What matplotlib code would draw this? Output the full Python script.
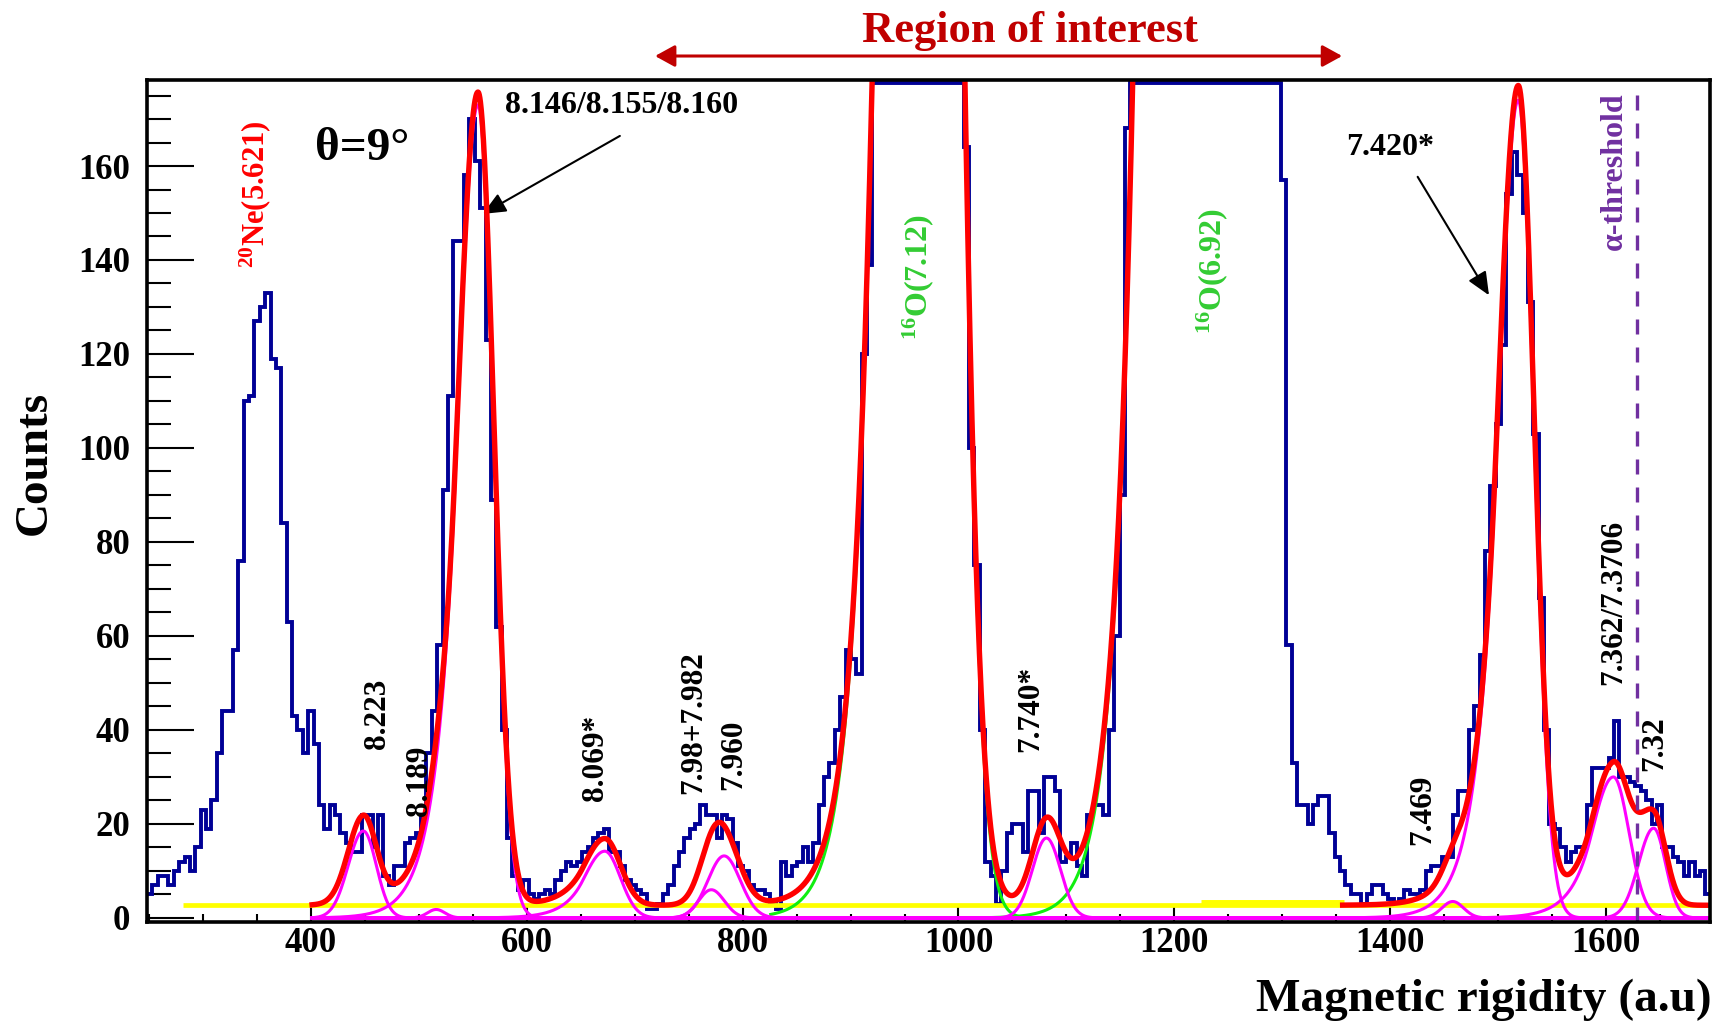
import numpy as np
import matplotlib
matplotlib.use("Agg")
import matplotlib.pyplot as plt
import matplotlib.transforms as mtransforms

# ---------------- data ----------------
x_lo, x_hi = 248.0, 1697.0          # histogram range (magnetic rigidity, a.u.)
hist_counts = [
    5, 7, 9, 9, 7, 10, 12, 13, 10, 15,
    23, 19, 25, 35, 44, 44, 57, 76, 110, 111,
    127, 130, 133, 119, 117, 84, 63, 43, 40, 35,
    44, 37, 24, 19, 24, 22, 18, 16, 14, 14,
    22, 22, 15, 22, 9, 7, 11, 11, 16, 17,
    18, 22, 35, 44, 58, 91, 111, 144, 144, 158,
    170, 161, 151, 123, 89, 62, 40, 17, 9, 6,
    8, 5, 4, 5, 6, 5, 8, 10, 12, 11,
    12, 14, 15, 17, 18, 19, 14, 14, 11, 8,
    7, 6, 5, 2, 2, 3, 5, 7, 11, 14,
    17, 19, 20, 24, 22, 22, 17, 22, 21, 16,
    11, 10, 7, 6, 6, 5, 3, 2, 12, 9,
    11, 12, 15, 12, 16, 24, 30, 33, 40, 47,
    57, 55, 52, 120, 139, 260, 380, 500, 620, 720,
    800, 850, 870, 860, 820, 760, 680, 580, 470, 360,
    270, 200, 164, 100, 75, 40, 12, 9, 3, 10,
    18, 20, 20, 14, 27, 27, 18, 30, 30, 27,
    12, 13, 16, 11, 9, 22, 24, 24, 22, 40,
    60, 90, 168, 230, 300, 380, 460, 540, 610, 660,
    700, 720, 720, 700, 660, 610, 560, 520, 480, 450,
    420, 400, 380, 360, 340, 320, 300, 280, 260, 240,
    215, 157, 58, 33, 24, 24, 20, 24, 26, 26,
    18, 13, 10, 7, 5, 5, 3, 5, 7, 7,
    5, 4, 3, 4, 6, 5, 5, 6, 10, 11,
    11, 13, 13, 22, 27, 27, 40, 45, 56, 78,
    92, 105, 122, 154, 163, 158, 150, 131, 103, 68,
    40, 20, 19, 15, 12, 14, 15, 15, 24, 32,
    32, 32, 34, 42, 30, 30, 29, 28, 27, 25,
    20, 24, 15, 15, 13, 12, 9, 12, 9, 10,
    5,
]

# fitted components (Gaussian core, optional exponential low-side tail)
mag_centers = [448.5, 516.0, 554.7, 672.2, 771.0, 782.8, 1081.5, 1458.0, 1518.7, 1606.9, 1644.2]
mag_amps    = [18.5, 1.8, 173.0, 14.2, 6.0, 13.2, 17.0, 3.5, 174.0, 30.0, 19.1]
mag_sig_l   = [14.0, 8.0, 19.0, 19.0, 12.0, 15.0, 13.0, 10.0, 19.0, 20.0, 14.0]
mag_tail_k  = [9.0, 9.0, 1.1, 1.1, 9.0, 9.0, 9.0, 9.0, 1.1, 1.1, 9.0]
mag_sig_r   = [12.0, 8.0, 14.5, 14.5, 12.0, 15.0, 13.0, 10.0, 14.5, 14.5, 11.0]
mag_fit_id  = [1, 1, 1, 1, 1, 1, 1, 2, 2, 2, 2]

grn_centers = [970.0, 1194.0]       # 16O(7.12), 16O(6.92)
grn_amps    = [667.0, 630.0]
grn_sig_l   = [30.6, 19.0]
grn_tail_k  = [1.78, 1.1]
grn_sig_r   = [22.0, 24.0]
grn_from    = [826.0, 972.0]

background = 2.7
fit1_range = (401.0, 1226.0)
fit2_range = (1356.0, 1696.0)
bg_range = (281.6, 1696.0)
bg2_range = (1225.0, 1357.0)
alpha_threshold = 1628.6

# ---------------- helpers ----------------
def peak(x, c, a, sl, k, sr):
    d = x - c
    out = np.empty_like(x)
    left = d < 0
    u = -d[left] / sl
    core = a * np.exp(-0.5 * u ** 2)
    tail = a * np.exp(0.5 * k ** 2 - k * u)
    out[left] = np.where(u <= k, core, tail)
    out[~left] = a * np.exp(-0.5 * (d[~left] / sr) ** 2)
    return out

plt.rcParams['font.family'] = ['Liberation Serif', 'DejaVu Serif']
plt.rcParams['font.weight'] = 'bold'
plt.rcParams['mathtext.fontset'] = 'custom'
plt.rcParams['mathtext.rm'] = 'Liberation Serif:bold'
plt.rcParams['mathtext.it'] = 'Liberation Serif:italic:bold'
plt.rcParams['mathtext.bf'] = 'Liberation Serif:bold'

fig = plt.figure(figsize=(17.18, 10.23), dpi=100)
ax = fig.add_axes([0.08556, 0.09902, 0.90978, 0.82278])
y_lo, y_hi = -0.8, 178.3
ax.set_xlim(x_lo, 1696.4)
ax.set_ylim(y_lo, y_hi)

BLUE = '#000096'
RED = '#FF0000'
MAG = '#FF00FF'
GRN = '#11EE11'
YEL = '#FFFF00'
PUR = '#7030A0'
DRED = '#C00000'

# histogram (ROOT draws overflowing bins along the frame)
counts = np.array(hist_counts, dtype=float)
edges = np.linspace(x_lo, x_hi, len(counts) + 1)
ax.stairs(np.minimum(counts, y_hi - 0.6), edges, color=BLUE, lw=2.8, zorder=2,
          baseline=None)

# background line
ax.plot(bg_range, [background, background], color=YEL, lw=3.4, zorder=3,
        solid_capstyle='butt')
ax.plot(bg2_range, [background + 0.5, background + 0.5], color=YEL, lw=5.0, zorder=3,
        solid_capstyle='butt')

# components
xm = np.linspace(fit1_range[0], fit2_range[1], 3000)
for c, a, sl, k, sr in zip(mag_centers, mag_amps, mag_sig_l, mag_tail_k, mag_sig_r):
    ax.plot(xm, peak(xm, c, a, sl, k, sr), color=MAG, lw=2.2, zorder=5)

for c, a, sl, k, sr, x0 in zip(grn_centers, grn_amps, grn_sig_l, grn_tail_k, grn_sig_r, grn_from):
    xg = np.linspace(x0, fit1_range[1], 1500)
    ax.plot(xg, peak(xg, c, a, sl, k, sr), color=GRN, lw=2.2, zorder=4)

# total fits
for fid, (r0, r1) in enumerate([fit1_range, fit2_range], start=1):
    xf = np.linspace(r0, r1, 3000)
    tot = np.full_like(xf, background)
    for c, a, sl, k, sr, f in zip(mag_centers, mag_amps, mag_sig_l, mag_tail_k, mag_sig_r, mag_fit_id):
        if f == fid:
            tot += peak(xf, c, a, sl, k, sr)
    if fid == 1:
        for c, a, sl, k, sr in zip(grn_centers, grn_amps, grn_sig_l, grn_tail_k, grn_sig_r):
            tot += peak(xf, c, a, sl, k, sr)
    ax.plot(xf, tot, color=RED, lw=3.9, zorder=6)

# alpha threshold
ax.plot([alpha_threshold, alpha_threshold], [y_lo, 176.0], color=PUR, lw=2.4,
        linestyle=(0, (4.5, 3.9)), zorder=7)

# axes styling
for s in ax.spines.values():
    s.set_linewidth(2.6)
    s.set_zorder(8)
ax.set_xticks([400, 600, 800, 1000, 1200, 1400, 1600])
ax.set_xticks(np.arange(250, 1700, 50), minor=True)
ax.set_yticks(np.arange(0, 161, 20))
ax.set_yticks(np.arange(0, 178, 5), minor=True)
ax.tick_params(axis='y', which='major', direction='in', length=34, width=1.5,
               labelsize=25, pad=12)
ax.tick_params(axis='y', which='minor', direction='in', length=17, width=1.5)
ax.tick_params(axis='x', which='major', direction='in', length=11, width=1.5,
               labelsize=25, pad=4)
ax.tick_params(axis='x', which='minor', direction='in', length=6, width=1.5)
for lab in ax.get_xticklabels() + ax.get_yticklabels():
    lab.set_fontweight('bold')

fig.text(0.0204, 0.5474, 'Counts', rotation=90, ha='center', va='center',
         fontsize=34, fontweight='bold')
fig.text(0.9960, 0.012, 'Magnetic rigidity (a.u)', ha='right', va='baseline',
         fontsize=34, fontweight='bold')

# annotations
trans = mtransforms.blended_transform_factory(ax.transData, ax.transAxes)
ax.text(1066.7, 1.0455, 'Region of interest', transform=trans, ha='center',
        va='baseline', fontsize=32, fontweight='bold', color=DRED, clip_on=False)
ax.annotate('', xy=(718.8, 1.0285), xytext=(1355.5, 1.0285), xycoords=trans,
            textcoords=trans,
            arrowprops=dict(arrowstyle='<|-|>,head_length=0.4,head_width=0.22',
                            color=DRED, lw=2.2, mutation_scale=30,
                            shrinkA=0, shrinkB=0), annotation_clip=False)

ax.text(447.3, 163.7, 'θ=9°', ha='center', va='center', fontsize=34,
        fontweight='bold', color='black')
ax.text(348.1, 154.0, r'$^{20}$Ne(5.621)', rotation=90, ha='center', va='center',
        fontsize=22, fontweight='bold', color=RED)
ax.text(687.5, 172.9, '8.146/8.155/8.160', ha='center', va='center', fontsize=23,
        fontweight='bold', color='black')
ax.annotate('', xy=(559.1, 149.8), xytext=(686.2, 166.4),
            arrowprops=dict(arrowstyle='-|>,head_length=0.5,head_width=0.22',
                            color='black', lw=1.5, mutation_scale=28,
                            shrinkA=0, shrinkB=0))
ax.text(1400.0, 163.9, '7.420*', ha='center', va='center', fontsize=23,
        fontweight='bold', color='black')
ax.annotate('', xy=(1491.6, 132.5), xytext=(1425.5, 157.7),
            arrowprops=dict(arrowstyle='-|>,head_length=0.5,head_width=0.22',
                            color='black', lw=1.5, mutation_scale=28,
                            shrinkA=0, shrinkB=0))
ax.text(1607.8, 159.0, 'α-threshold', rotation=90, ha='center', va='center',
        fontsize=23, fontweight='bold', color=PUR)
ax.text(962.8, 136.3, r'$^{16}$O(7.12)', rotation=90, ha='center', va='center',
        fontsize=23, fontweight='bold', color='#33CC33')
ax.text(1234.7, 137.7, r'$^{16}$O(6.92)', rotation=90, ha='center', va='center',
        fontsize=23, fontweight='bold', color='#33CC33')

state_labels = ['8.223', '8.189', '8.069*', '7.98+7.982', '7.960', '7.740*',
                '7.469', '7.362/7.3706', '7.32']
state_x = [461.3, 500.6, 663.2, 755.0, 791.4, 1067.1, 1430.1, 1607.1, 1645.6]
state_y = [43.5, 29.2, 34.1, 41.5, 34.8, 44.4, 23.1, 67.2, 37.1]
for s, xx, yy in zip(state_labels, state_x, state_y):
    ax.text(xx, yy, s, rotation=90, ha='center', va='center', fontsize=22.5,
            fontweight='bold', color='black', zorder=9)

fig.savefig('out.png', dpi=100)
